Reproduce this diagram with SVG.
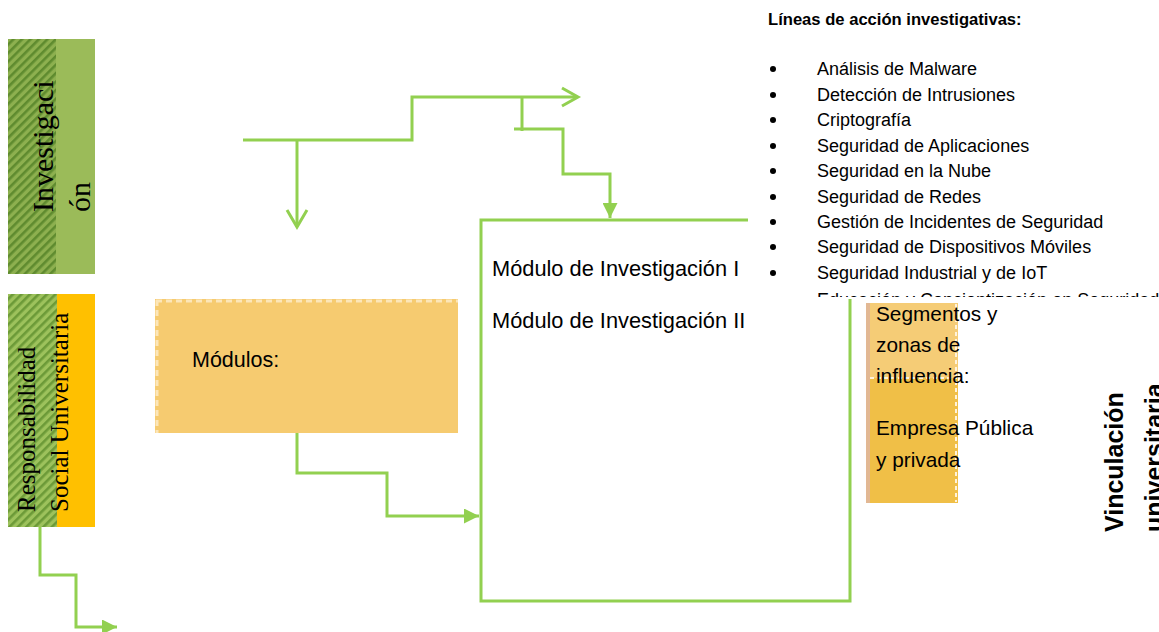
<svg xmlns="http://www.w3.org/2000/svg" width="1159" height="632" viewBox="0 0 1159 632">
<defs>
<style>
.conn{fill:none;stroke:#92D050;stroke-width:3;stroke-linejoin:miter;stroke-linecap:butt}
.sans{font-family:"Liberation Sans",Arial,sans-serif;fill:#000}
.serif{font-family:"Liberation Serif","Times New Roman",serif;fill:#000}
.li{font-size:18px}
</style>
<pattern id="hatchG" patternUnits="userSpaceOnUse" width="6" height="6" patternTransform="rotate(45)">
<rect width="6" height="6" fill="#8DB04F"/>
<rect width="2.6" height="6" fill="#5F8B2F"/>
</pattern>
<pattern id="hatchR" patternUnits="userSpaceOnUse" width="6" height="6" patternTransform="rotate(45)">
<rect width="6" height="6" fill="#9DC25C"/>
<rect width="2.6" height="6" fill="#6C9A38"/>
</pattern>
<marker id="tri" viewBox="0 0 10 10" refX="10" refY="5" markerWidth="5" markerHeight="5" orient="auto" markerUnits="strokeWidth">
<path d="M0,0 L10,5 L0,10 z" fill="#92D050"/>
</marker>
<clipPath id="listClip"><rect x="748" y="0" width="411" height="297"/></clipPath>
<clipPath id="pageClip"><rect x="0" y="0" width="1159" height="632"/></clipPath>
</defs>
<rect width="1159" height="632" fill="#ffffff"/>

<g id="connectors">
<path class="conn" d="M243,140 H412 V97 H577"/>
<path class="conn" d="M562,88 L578,97 L562,106"/>
<path class="conn" d="M297,140 V227"/>
<path class="conn" d="M287,210 L297,227 L307,210"/>
<path class="conn" d="M522,97 V131"/>
<path class="conn" d="M514,129 H563 V174 H610 V218" marker-end="url(#tri)"/>
<path class="conn" d="M297,433 V473 H387 V516 H479" marker-end="url(#tri)"/>
<path class="conn" d="M40,527 V575 H76 V627 H117" marker-end="url(#tri)"/>
</g>

<g id="investigacion">
<rect x="8" y="39" width="87" height="235" fill="#9BBB59"/>
<rect x="8" y="39" width="48" height="235" fill="url(#hatchG)"/>
<text class="serif" font-size="30" transform="translate(53,212) rotate(-90)">Investigaci</text>
<text class="serif" font-size="30" transform="translate(90,212) rotate(-90)">ón</text>
</g>

<g id="responsabilidad">
<rect x="8" y="294" width="87" height="233" fill="#FFC000"/>
<rect x="8" y="294" width="49" height="233" fill="url(#hatchR)"/>
<text class="serif" font-size="25" transform="translate(35,512) rotate(-90)">Responsabilidad</text>
<text class="serif" font-size="25" transform="translate(68,512) rotate(-90)">Social Universitaria</text>
</g>

<g id="modulos">
<rect x="155" y="299" width="303" height="134" fill="#F6CB70"/>
<path d="M156,301 H458 M157,300 V433" fill="none" stroke="#FCE6B8" stroke-width="3" stroke-dasharray="6 4"/>
<text class="sans" font-size="21.5" x="192" y="367">Módulos:</text>
</g>

<g id="modulo-investigacion">
<path class="conn" d="M748,220 H481 V601 H850 V299"/>
<text class="sans" font-size="21.8" x="492" y="276">Módulo de Investigación I</text>
<text class="sans" font-size="21.8" x="492" y="328">Módulo de Investigación II</text>
</g>

<g id="lineas">
<text class="sans" font-size="16.6" font-weight="bold" x="768" y="25">Líneas de acción investigativas:</text>
<g clip-path="url(#listClip)">
<g fill="#000">
<circle cx="773" cy="69" r="3"/>
<circle cx="773" cy="95" r="3"/>
<circle cx="773" cy="120" r="3"/>
<circle cx="773" cy="146" r="3"/>
<circle cx="773" cy="171" r="3"/>
<circle cx="773" cy="197" r="3"/>
<circle cx="773" cy="222" r="3"/>
<circle cx="773" cy="247" r="3"/>
<circle cx="773" cy="273" r="3"/>
</g>
<text class="sans li" x="817" y="75">Análisis de Malware</text>
<text class="sans li" x="817" y="101">Detección de Intrusiones</text>
<text class="sans li" x="817" y="126">Criptografía</text>
<text class="sans li" x="817" y="152">Seguridad de Aplicaciones</text>
<text class="sans li" x="817" y="177">Seguridad en la Nube</text>
<text class="sans li" x="817" y="203">Seguridad de Redes</text>
<text class="sans li" x="817" y="228">Gestión de Incidentes de Seguridad</text>
<text class="sans li" x="817" y="253">Seguridad de Dispositivos Móviles</text>
<text class="sans li" x="817" y="279">Seguridad Industrial y de IoT</text>
<text class="sans li" x="817" y="306">Educación y Concientización en Seguridad</text>
</g>
</g>

<g id="segmentos">
<rect x="866" y="303" width="92" height="75" fill="#F5CC76"/>
<rect x="866" y="378" width="92" height="125" fill="#F0BF47"/>
<rect x="866" y="303" width="4" height="200" fill="#E2B894"/>
<path d="M956,304 V502 M870,378 H957" fill="none" stroke="#FFF3DC" stroke-width="2" stroke-dasharray="4 3"/>
<text class="sans" font-size="20.8" x="876" y="321">Segmentos y</text>
<text class="sans" font-size="20.8" x="876" y="352">zonas de</text>
<text class="sans" font-size="20.8" x="876" y="383">influencia:</text>
<text class="sans" font-size="20.8" x="876" y="435">Empresa Pública</text>
<text class="sans" font-size="20.8" x="876" y="467">y privada</text>
</g>

<g id="vinculacion" clip-path="url(#pageClip)">
<text class="sans" font-size="25" font-weight="bold" transform="translate(1123,532) rotate(-90)">Vinculación</text>
<text class="sans" font-size="25" font-weight="bold" transform="translate(1163,532) rotate(-90)">universitaria</text>
</g>
</svg>
